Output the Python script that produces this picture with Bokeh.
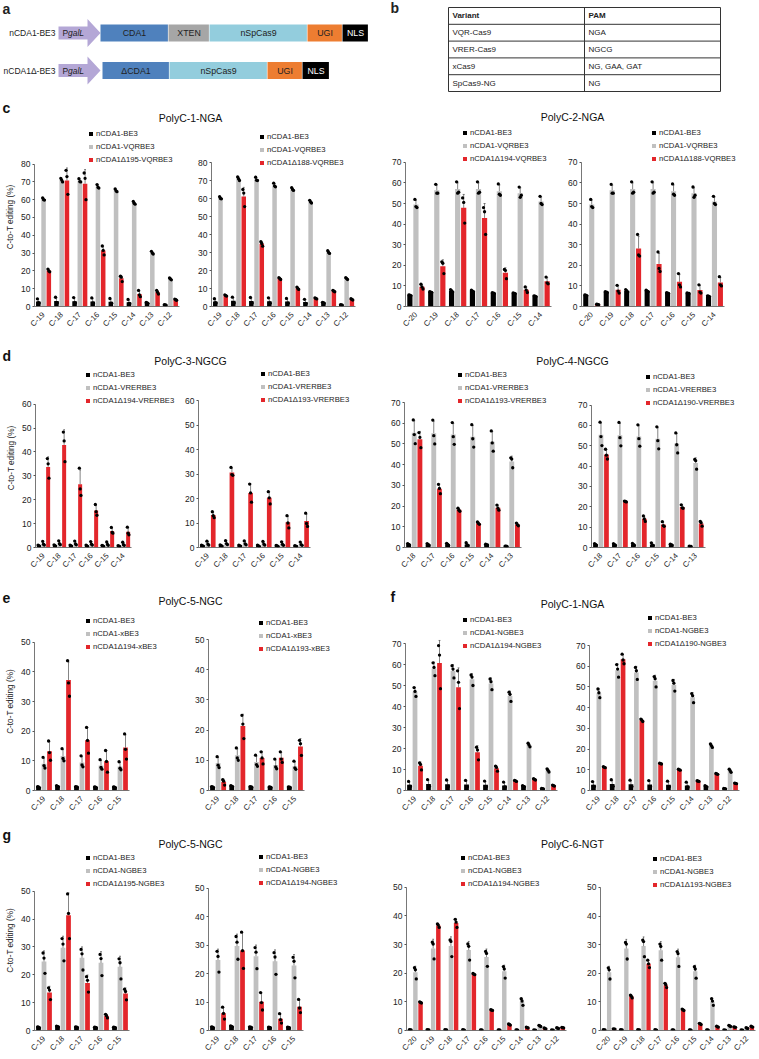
import math
import numpy as np
from bokeh.plotting import figure
from bokeh.models import Range1d, FixedTicker, Legend, LegendItem
from bokeh.layouts import row, column
from bokeh.core.properties import value
from bokeh.embed import file_html
from bokeh.resources import INLINE

FONT = "Liberation Sans"
C_BLACK = "#000000"
C_GREY = "#c0c0c0"
C_RED = "#e3262b"
TOTAL_W = 758

# ---------------- panel a / b content ----------------
construct1_name = "nCDA1-BE3"
construct1_blocks = ["CDA1", "XTEN", "nSpCas9", "UGI", "NLS"]
construct1_widths = [68, 41, 98, 35, 26]
construct2_name = "nCDA1\u0394-BE3"
construct2_blocks = ["\u0394CDA1", "nSpCas9", "UGI", "NLS"]
construct2_widths = [67, 98, 35, 27]
block_colors = {"CDA1": "#4f81bd", "\u0394CDA1": "#4f81bd", "XTEN": "#a6a6a6",
                "nSpCas9": "#93cddd", "UGI": "#ed7d31", "NLS": "#000000"}
block_text = {"NLS": "#ffffff"}

table_header = ["Variant", "PAM"]
table_variants = ["VQR-Cas9", "VRER-Cas9", "xCas9", "SpCas9-NG"]
table_pams = ["NGA", "NGCG", "NG, GAA, GAT", "NG"]

# ---------------- categories ----------------
cats_p1 = ["C-19", "C-18", "C-17", "C-16", "C-15", "C-14", "C-13", "C-12"]
cats_p2 = ["C-20", "C-19", "C-18", "C-17", "C-16", "C-15", "C-14"]
cats_p3 = ["C-19", "C-18", "C-17", "C-16", "C-15", "C-14"]
cats_p4 = ["C-18", "C-17", "C-16", "C-15", "C-14", "C-13"]
cats_p5 = ["C-19", "C-18", "C-17", "C-16", "C-15"]
cats_p6 = ["C-20", "C-19", "C-18", "C-17", "C-16", "C-15", "C-14", "C-13", "C-12"]

# ---------------- replicate values (3 per bar) ----------------
# nCDA1-BE3 controls
be3_p1 = [[4.3, 2.1, 1.9], [5.2, 2.2, 2.0], [5.0, 2.1, 1.9], [4.8, 2.0, 1.8],
          [4.5, 1.9, 1.8], [4.0, 1.7, 1.6], [2.3, 2.0, 1.8], [1.0, 0.9, 0.8]]
be3_p2 = [[5.6, 5.5, 5.3], [7.2, 7.0, 6.8], [8.2, 7.6, 7.0], [7.9, 7.5, 7.2],
          [6.7, 6.5, 6.3], [6.6, 6.4, 6.3], [5.2, 5.0, 4.8]]
be3_p3 = [[1.0, 0.7, 0.6], [1.1, 0.8, 0.6], [1.0, 0.7, 0.6], [1.0, 0.7, 0.5],
          [0.9, 0.7, 0.5], [0.8, 0.6, 0.5]]
be3_p4 = [[1.9, 1.5, 1.2], [1.9, 1.4, 1.1], [2.0, 1.5, 1.1], [2.3, 1.2, 1.0],
          [1.6, 1.3, 1.2], [0.7, 0.6, 0.5]]
be3_p5 = [[1.3, 1.2, 1.0], [1.6, 1.4, 1.3], [1.3, 1.2, 1.1], [1.2, 1.1, 1.0], [1.2, 1.1, 1.0]]
be3_p6 = [[0.3, 0.2, 0.2], [0.3, 0.2, 0.2], [0.3, 0.2, 0.2], [0.3, 0.2, 0.1], [0.2, 0.2, 0.1],
          [0.2, 0.2, 0.1], [0.2, 0.2, 0.1], [0.2, 0.1, 0.1], [0.2, 0.1, 0.1]]

# PAM-variant controls
vqr_p1 = [[61.0, 60.0, 59.8], [72.0, 71.0, 70.0], [71.8, 70.2, 70.0], [68.5, 67.0, 66.5],
          [66.0, 65.0, 64.5], [59.0, 58.0, 57.5], [31.0, 30.0, 29.5], [16.0, 15.5, 15.0]]
vqr_p2 = [[52.0, 48.5, 48.0], [59.3, 55.0, 55.0], [60.5, 55.0, 55.5], [60.5, 55.0, 55.5],
          [59.5, 54.5, 54.0], [58.0, 53.0, 54.0], [53.5, 50.0, 49.5]]
vrer_p3 = [[2.6, 1.4, 1.0], [2.8, 1.6, 1.2], [2.7, 1.5, 1.1], [2.5, 1.4, 1.0],
           [2.3, 1.3, 0.9], [2.2, 1.2, 0.9]]
vrer_p4 = [[61.6, 54.5, 50.1], [61.5, 54.0, 50.0], [60.3, 53.5, 49.8], [59.3, 52.5, 48.5],
           [56.3, 50.5, 46.5], [43.3, 42.7, 38.5]]
xbe3_p5 = [[11.2, 8.4, 7.6], [14.1, 10.8, 10.0], [11.7, 8.6, 8.0], [10.4, 7.8, 7.2], [9.7, 7.5, 7.0]]
ngbe3_p1 = [[49.0, 47.2, 44.8], [60.8, 58.6, 54.7], [59.4, 57.8, 53.6], [55.0, 54.0, 50.0],
            [53.1, 51.8, 48.0], [46.8, 45.8, 42.4], [22.5, 21.7, 20.8], [10.3, 9.6, 8.8]]
ngbe3_p5 = [[27.8, 26.0, 20.5], [33.0, 31.0, 25.0], [29.1, 27.5, 21.7], [27.3, 25.8, 19.7],
            [25.7, 24.3, 18.5]]
ngbe3_p6 = [[21.9, 21.2, 18.0], [30.8, 30.2, 25.0], [31.6, 31.1, 25.8], [30.2, 29.4, 24.6],
            [27.6, 26.9, 22.4], [22.3, 21.5, 18.3], [11.1, 10.3, 8.8], [1.8, 1.6, 1.4], [1.0, 0.8, 0.7]]

# truncated-deaminase editors
d195_vqr_p1 = [[21.0, 20.0, 19.5], [76.5, 73.0, 63.0], [75.0, 72.0, 60.0], [34.0, 31.5, 29.0],
               [17.0, 16.5, 14.0], [9.0, 6.5, 5.5], [9.0, 8.0, 7.0], [4.2, 3.8, 3.5]]
d188_vqr_p1 = [[6.5, 6.0, 5.8], [65.0, 63.0, 55.5], [36.0, 35.0, 33.5], [16.0, 15.5, 15.0],
               [10.8, 10.0, 9.5], [4.8, 4.5, 4.2], [9.0, 8.5, 8.2], [4.3, 4.0, 3.6]]
d194_vqr_p2 = [[10.8, 9.5, 8.5], [21.7, 21.0, 16.0], [52.7, 50.5, 40.5], [48.0, 46.0, 35.0],
               [18.0, 17.5, 13.5], [9.5, 8.0, 6.8], [14.3, 11.5, 11.0]]
d188_vqr_p2 = [[1.1, 1.0, 0.9], [10.3, 7.5, 6.5], [35.0, 25.0, 24.5], [26.5, 18.5, 17.0],
               [16.0, 10.5, 9.5], [10.5, 7.0, 6.5], [14.5, 10.5, 10.0]]
d194_vrer_p3 = [[37.2, 35.0, 29.0], [48.3, 44.6, 35.9], [33.2, 24.5, 21.8], [18.0, 15.0, 13.5],
                [8.4, 6.3, 6.0], [8.5, 6.0, 5.3]]
d193_vrer_p3 = [[14.6, 13.0, 12.2], [32.7, 29.8, 29.5], [25.9, 22.3, 18.5], [22.8, 20.3, 17.8],
                [13.0, 10.0, 8.0], [14.0, 9.8, 8.6]]
d193_vrer_p4 = [[55.5, 53.2, 48.2], [30.5, 28.5, 26.0], [19.0, 18.0, 17.5], [12.3, 11.7, 11.2],
                [20.5, 19.0, 18.0], [11.8, 11.0, 10.5]]
d190_vrer_p4 = [[48.3, 45.4, 43.5], [22.8, 22.6, 22.4], [15.5, 14.0, 12.8], [12.7, 10.8, 10.4],
                [21.0, 19.5, 19.3], [12.8, 12.2, 10.5]]
d194_xbe3_p5 = [[16.7, 12.8, 10.2], [43.8, 36.3, 31.8], [21.3, 16.9, 12.6], [13.5, 9.8, 6.2],
                [19.1, 13.9, 10.6]]
d193_xbe3_p5 = [[3.6, 3.1, 1.8], [24.9, 22.0, 17.2], [12.8, 10.8, 8.8], [12.8, 10.4, 9.3],
                [16.6, 15.5, 11.6]]
d194_ngbe3_p1 = [[13.2, 12.4, 9.8], [69.0, 64.5, 48.5], [57.0, 51.5, 39.0], [20.6, 19.3, 14.6],
                 [11.6, 11.0, 9.2], [4.8, 4.6, 4.3], [5.6, 5.3, 5.0], [2.6, 2.3, 2.1]]
d190_ngbe3_p1 = [[11.5, 11.2, 11.0], [65.8, 63.0, 61.2], [34.5, 34.0, 33.3], [13.2, 13.0, 12.8],
                 [10.3, 10.0, 9.8], [4.7, 4.5, 4.4], [8.2, 8.0, 7.8], [3.6, 3.4, 3.3]]
d195_ngbe3_p5 = [[15.3, 14.5, 11.1], [49.0, 42.0, 33.0], [19.3, 18.0, 13.8], [5.8, 5.3, 4.5],
                 [14.8, 14.0, 11.0]]
d194_ngbe3_p5 = [[8.2, 6.0, 4.0], [34.5, 28.0, 21.8], [13.3, 9.8, 7.2], [5.9, 3.8, 2.6],
                 [10.9, 7.9, 6.3]]
d194_ngbe3_p6 = [[10.0, 9.8, 9.6], [37.2, 36.8, 36.0], [38.8, 37.8, 36.0], [19.9, 19.7, 19.5],
                 [7.3, 7.1, 7.0], [2.3, 2.1, 1.9], [1.2, 1.0, 0.9], [0.9, 0.7, 0.6], [1.1, 1.0, 0.9]]
d193_ngbe3_p6 = [[0.6, 0.5, 0.5], [12.4, 12.0, 11.4], [24.6, 23.3, 22.0], [16.5, 16.0, 15.0],
                 [7.5, 7.2, 7.0], [2.5, 2.3, 2.1], [1.5, 1.3, 1.2], [1.3, 1.2, 1.1], [1.5, 1.3, 1.2]]

YLABEL = "C-to-T editing (%)"

# ---------------- helpers ----------------
def blank(width, height, x0, x1, y0, y1):
    p = figure(width=width, height=height, x_range=Range1d(x0, x1), y_range=Range1d(y1, y0),
               output_backend="svg", toolbar_location=None, x_axis_type=None, y_axis_type=None,
               min_border=0)
    p.title.visible = False
    p.outline_line_color = None
    p.grid.visible = False
    return p


def put_text(p, x, y, t, size, style="normal", align="left", color="#222222"):
    p.text(x=[x], y=[y], text=[t], text_font=value(FONT), text_font_size=f"{size}px",
           text_font_style=style, text_align=align, text_baseline="middle", text_color=color)


def header(top, bottom, items):
    p = blank(TOTAL_W, bottom - top, 0, TOTAL_W, top, bottom)
    for (x, y, t, size, style, align) in items:
        put_text(p, x, y, t, size, style, align, "#111111")
    return p


def bar_plot(slot, band, frame, ymax, cats, series, names, leg, ylabel=False):
    sl, sr = slot
    bt, bb = band
    fl, fr, ft, fb = frame
    n = len(cats)
    # the frame fills the slot to the right and the band to the top; the axes stop at the data extent
    y_top = ymax * (fb - bt) / (fb - ft)
    x_end = -0.5 + n * (sr - fl) / (fr - fl)
    p = figure(width=sr - sl, height=bb - bt, output_backend="svg", toolbar_location=None,
               x_range=Range1d(-0.5, x_end), y_range=Range1d(0, y_top),
               min_border_left=fl - sl, min_border_right=0,
               min_border_top=0, min_border_bottom=bb - fb)
    p.title.visible = False
    p.outline_line_color = None
    p.grid.visible = False
    x = np.arange(n)
    renderers = []
    for k, (data, color) in enumerate(zip(series, [C_BLACK, C_GREY, C_RED])):
        arr = np.array(data, dtype=float)
        m = arr.mean(axis=1)
        s = arr.std(axis=1, ddof=1)
        xs = x + (k - 1) * 0.29
        r = p.vbar(x=xs, top=m, width=0.25, fill_color=color, line_color=None)
        renderers.append(r)
        p.segment(x0=xs, y0=m, x1=xs, y1=m + s, line_color="#333333", line_width=0.6)
        p.segment(x0=xs - 0.05, y0=m + s, x1=xs + 0.05, y1=m + s, line_color="#333333", line_width=0.6)
        for j in range(3):
            p.scatter(x=xs + (j - 1) * 0.05, y=arr[:, j], size=3.3, fill_color="black",
                      line_color=None)
    # axes
    p.xaxis.ticker = FixedTicker(ticks=list(range(n)))
    p.xaxis.bounds = (-0.5, n - 0.5)
    p.xaxis.major_label_overrides = {i: c for i, c in enumerate(cats)}
    p.xaxis.major_label_orientation = math.pi / 4
    p.xaxis.major_tick_line_color = None
    p.xaxis.minor_tick_line_color = None
    p.xaxis.major_label_standoff = 1
    p.yaxis.ticker = FixedTicker(ticks=list(range(0, ymax + 1, 10)))
    p.yaxis.bounds = (0, ymax)
    p.yaxis.major_tick_out = 2
    p.yaxis.major_tick_in = 0
    p.yaxis.minor_tick_line_color = None
    p.yaxis.major_label_standoff = 2
    p.yaxis.major_tick_line_color = "#555555"
    for ax in (p.xaxis, p.yaxis):
        ax.axis_line_color = "#555555"
        ax.axis_line_width = 0.8
        ax.major_label_text_font = FONT
        ax.major_label_text_color = "#222222"
    p.xaxis.major_label_text_font_size = "7.7px"
    p.yaxis.major_label_text_font_size = "8.5px"
    if ylabel:
        p.yaxis.axis_label = YLABEL
        p.yaxis.axis_label_text_font = FONT
        p.yaxis.axis_label_text_font_size = "8.2px"
        p.yaxis.axis_label_text_font_style = "normal"
        p.yaxis.axis_label_text_color = "#222222"
        p.yaxis.axis_label_standoff = 3
    # legend (inside the frame, above the top of the data axis)
    lx, ly = leg
    lh, sp = 9, 4
    leg_top = ly - lh / 2
    leg_bottom = leg_top + 3 * lh + 2 * sp
    legend = Legend(items=[LegendItem(label=nm, renderers=[r]) for nm, r in zip(names, renderers)],
                    location=(lx - fl, fb - leg_bottom))
    legend.glyph_width = 5
    legend.glyph_height = 5
    legend.label_height = lh
    legend.spacing = sp
    legend.padding = 0
    legend.margin = 0
    legend.label_standoff = 3
    legend.border_line_color = None
    legend.background_fill_alpha = 0
    legend.label_text_font = FONT
    legend.label_text_font_size = "7.7px"
    legend.label_text_color = "#222222"
    p.add_layout(legend)
    return p


# ---------------- panel a ----------------
fa = blank(380, 100, 0, 380, 0, 100)
put_text(fa, 2, 8, "a", 14, "bold")
for (name, blocks, widths, x0, yc) in [(construct1_name, construct1_blocks, construct1_widths, 100, 32.5),
                                        (construct2_name, construct2_blocks, construct2_widths, 102, 70)]:
    put_text(fa, 55, yc, name, 8.5, "normal", "right")
    ax = [58, 87, 87, 100, 87, 87, 58]
    ay = [yc - 6.5, yc - 6.5, yc - 14, yc, yc + 14, yc + 6.5, yc + 6.5]
    fa.patch(ax, ay, fill_color="#b4a7d6", line_color=None)
    put_text(fa, 62, yc, "P", 8.5, "normal", "left")
    put_text(fa, 67.5, yc, "galL", 8.5, "italic", "left")
    left = x0
    for b, w in zip(blocks, widths):
        fa.quad(left=[left], right=[left + w - 0.6], top=[yc - 8.5], bottom=[yc + 8.5],
                fill_color=block_colors[b], line_color=None)
        put_text(fa, left + w / 2, yc, b, 8.8, "normal", "center", block_text.get(b, "#222222"))
        left += w

# ---------------- panel b ----------------
fb_ = blank(TOTAL_W - 380, 100, 380, TOTAL_W, 0, 100)
put_text(fb_, 390, 7, "b", 14, "bold")
tx0, tx1, tmid = 448, 720, 584
row_h = 16.8
ty = [7 + k * row_h for k in range(6)]
fb_.segment(x0=[tx0] * 6, y0=ty, x1=[tx1] * 6, y1=ty, line_color="#333333", line_width=1)
fb_.segment(x0=[tx0, tmid, tx1], y0=[ty[0]] * 3, x1=[tx0, tmid, tx1], y1=[ty[-1]] * 3,
            line_color="#333333", line_width=1)
put_text(fb_, tx0 + 4, ty[0] + row_h / 2, table_header[0], 8, "bold")
put_text(fb_, tmid + 4, ty[0] + row_h / 2, table_header[1], 8, "bold")
for k, (v, pam) in enumerate(zip(table_variants, table_pams)):
    put_text(fb_, tx0 + 4, ty[k + 1] + row_h / 2, v, 8)
    put_text(fb_, tmid + 4, ty[k + 1] + row_h / 2, pam, 8)

top_row = row(fa, fb_)

# ---------------- headers ----------------
hC = header(100, 127, [(2, 107, "c", 14, "bold", "left"),
                       (190, 117, "PolyC-1-NGA", 10.5, "normal", "center"),
                       (572, 116, "PolyC-2-NGA", 10.5, "normal", "center")])
hD = header(340, 368, [(2, 355, "d", 14, "bold", "left"),
                       (190, 360, "PolyC-3-NGCG", 10.5, "normal", "center"),
                       (572, 360, "PolyC-4-NGCG", 10.5, "normal", "center")])
hEF = header(577, 612, [(2, 597, "e", 14, "bold", "left"),
                        (190, 600, "PolyC-5-NGC", 10.5, "normal", "center"),
                        (390, 596, "f", 14, "bold", "left"),
                        (572, 603, "PolyC-1-NGA", 10.5, "normal", "center")])
hG = header(818, 850, [(2, 834, "g", 14, "bold", "left"),
                       (190, 843, "PolyC-5-NGC", 10.5, "normal", "center"),
                       (572, 843, "PolyC-6-NGT", 10.5, "normal", "center")])

# ---------------- bar plots ----------------
bandC, bandD, bandEF, bandG = (127, 340), (368, 577), (612, 818), (850, 1058)
B = "nCDA1-BE3"
rowC = row(
    bar_plot((0, 195), bandC, (34, 179, 164, 308), 80, cats_p1, [be3_p1, vqr_p1, d195_vqr_p1],
             (B, "nCDA1-VQRBE3", "nCDA1\u0394195-VQRBE3"), (88, 135), True),
    bar_plot((195, 380), bandC, (210, 355, 162, 306), 80, cats_p1, [be3_p1, vqr_p1, d188_vqr_p1],
             (B, "nCDA1-VQRBE3", "nCDA1\u0394188-VQRBE3"), (258, 136)),
    bar_plot((380, 565), bandC, (405, 551, 162, 307), 70, cats_p2, [be3_p2, vqr_p2, d194_vqr_p2],
             (B, "nCDA1-VQRBE3", "nCDA1\u0394194-VQRBE3"), (462, 133)),
    bar_plot((565, TOTAL_W), bandC, (580, 724, 162, 307), 70, cats_p2, [be3_p2, vqr_p2, d188_vqr_p2],
             (B, "nCDA1-VQRBE3", "nCDA1\u0394188-VQRBE3"), (650, 133)),
)
rowD = row(
    bar_plot((0, 182), bandD, (35, 131, 404, 549), 60, cats_p3, [be3_p3, vrer_p3, d194_vrer_p3],
             (B, "nCDA1-VRERBE3", "nCDA1\u0394194-VRERBE3"), (85, 376), True),
    bar_plot((182, 380), bandD, (198, 310, 401, 552), 60, cats_p3, [be3_p3, vrer_p3, d193_vrer_p3],
             (B, "nCDA1-VRERBE3", "nCDA1\u0394193-VRERBE3"), (260, 378)),
    bar_plot((380, 575), bandD, (404, 521, 402, 547), 70, cats_p4, [be3_p4, vrer_p4, d193_vrer_p4],
             (B, "nCDA1-VRERBE3", "nCDA1\u0394193-VRERBE3"), (457, 374)),
    bar_plot((575, TOTAL_W), bandD, (589, 704, 405, 549), 70, cats_p4, [be3_p4, vrer_p4, d190_vrer_p4],
             (B, "nCDA1-VRERBE3", "nCDA1\u0394190-VRERBE3"), (643, 378)),
)
rowEF = row(
    bar_plot((0, 192), bandEF, (34, 129, 642, 791), 50, cats_p5, [be3_p5, xbe3_p5, d194_xbe3_p5],
             (B, "nCDA1-xBE3", "nCDA1\u0394194-xBE3"), (85, 621), True),
    bar_plot((192, 380), bandEF, (208, 304, 639, 790), 50, cats_p5, [be3_p5, xbe3_p5, d193_xbe3_p5],
             (B, "nCDA1-xBE3", "nCDA1\u0394193-xBE3"), (258, 622)),
    bar_plot((380, 573), bandEF, (405, 557, 643, 790), 70, cats_p1, [be3_p1, ngbe3_p1, d194_ngbe3_p1],
             (B, "nCDA1-NGBE3", "nCDA1\u0394194-NGBE3"), (462, 619)),
    bar_plot((573, TOTAL_W), bandEF, (589, 739, 645, 790), 70, cats_p1, [be3_p1, ngbe3_p1, d190_ngbe3_p1],
             (B, "nCDA1-NGBE3", "nCDA1\u0394190-NGBE3"), (647, 617)),
)
rowG = row(
    bar_plot((0, 192), bandG, (34, 129, 892, 1036), 50, cats_p5, [be3_p5, ngbe3_p5, d195_ngbe3_p5],
             (B, "nCDA1-NGBE3", "nCDA1\u0394195-NGBE3"), (85, 863), True),
    bar_plot((192, 380), bandG, (208, 303, 889, 1037), 50, cats_p5, [be3_p5, ngbe3_p5, d194_ngbe3_p5],
             (B, "nCDA1-NGBE3", "nCDA1\u0394194-NGBE3"), (258, 863)),
    bar_plot((380, 584), bandG, (406, 566, 888, 1036), 50, cats_p6, [be3_p6, ngbe3_p6, d194_ngbe3_p6],
             (B, "nCDA1-NGBE3", "nCDA1\u0394194-NGBE3"), (460, 863)),
    bar_plot((584, TOTAL_W), bandG, (598, 755, 888, 1035), 50, cats_p6, [be3_p6, ngbe3_p6, d193_ngbe3_p6],
             (B, "nCDA1-NGBE3", "nCDA1\u0394193-NGBE3"), (650, 863)),
)

layout = column(top_row, hC, rowC, hD, rowD, hEF, rowEF, hG, rowG)
open("out.html", "w").write(file_html(layout, INLINE))
